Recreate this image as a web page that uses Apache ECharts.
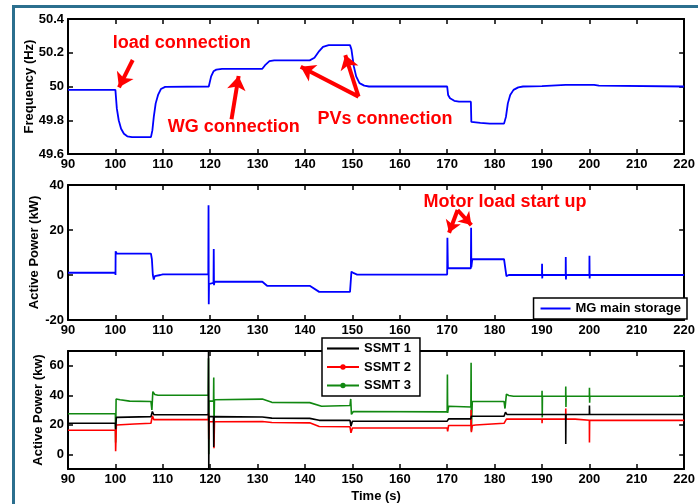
<!DOCTYPE html>
<html><head><meta charset="utf-8">
<script src="https://cdn.jsdelivr.net/npm/echarts@6/dist/echarts.min.js"></script>
<style>html,body{margin:0;padding:0;background:#fff}#c{width:698px;height:504px}</style>
</head><body><div id="c"></div>
<script>
// ---- data: [time (s), value] ----
const freqData = [[90,49.98],[100,49.98],[100.3,49.87],[100.7,49.8],[101.2,49.75],[101.8,49.72],[102.5,49.705],[103.5,49.70],[107.5,49.70],[107.8,49.74],[108.1,49.82],[108.5,49.90],[109,49.95],[109.6,49.985],[110.5,49.998],[119.7,50.0],[119.8,50.01],[120.2,50.06],[120.7,50.09],[121.3,50.1],[122.5,50.105],[131,50.105],[131.7,50.13],[132.5,50.15],[133.5,50.155],[141,50.155],[142,50.17],[143,50.21],[143.8,50.235],[145,50.245],[149.5,50.245],[149.8,50.22],[150.3,50.12],[150.8,50.06],[151.5,50.02],[152.5,50.005],[153.5,50.0],[170,50.0],[170.2,49.95],[170.6,49.93],[171.5,49.915],[172.5,49.91],[175,49.91],[175.1,49.79],[177,49.785],[179,49.78],[182,49.78],[182.4,49.82],[182.8,49.9],[183.3,49.95],[184,49.98],[185,49.995],[186,50.0],[190,50.002],[195,50.01],[201,50.01],[202,50.005],[220,50.0]];
const storageData = [[90,1],[100,1],[100.02,0],[100.05,10.5],[100.3,9.5],[107.5,9.5],[107.7,7],[107.9,0],[108.1,-2],[108.3,-0.5],[109.5,0],[110,0.3],[119.6,0.3],[119.65,31],[119.7,-13],[119.75,-4],[120.7,-3.5],[120.75,11.5],[120.8,-4.5],[120.9,-3],[131,-3],[132,-4.8],[141,-4.8],[143,-7.5],[149.5,-7.5],[149.8,1.5],[150.3,0.8],[151,0.2],[170,0.2],[170.05,16.5],[170.15,3],[175,3],[175.05,21],[175.1,3.5],[175.3,7],[182,7],[182.5,-0.5],[183,0],[190,0],[190.02,5],[190.06,-1.5],[190.1,0],[195,0],[195.02,8],[195.06,-2],[195.1,0],[200,0],[200.02,8.5],[200.06,-1.5],[200.1,0],[220,0]];
const ssmt1Data = [[90,21],[100,21],[100.05,17],[100.2,25],[107.5,25.5],[107.8,29],[108.1,26.8],[119.6,27],[119.65,70],[119.7,-10],[119.75,25.5],[120.7,25.5],[120.75,5],[120.8,25.5],[131,25.3],[133,24.5],[141,24.3],[143,23],[149.5,23],[149.7,19],[150,22.4],[170,22.4],[170.3,24],[175,24],[175.1,25.8],[182,25.8],[182.3,28.5],[182.6,27],[195,27],[195.02,7],[195.06,27],[200,27],[200.02,33],[200.06,27],[220,27]];
const ssmt2Data = [[90,16.3],[100,16.3],[100.05,2],[100.2,19.8],[104,20.5],[107.5,21],[107.8,26],[108.1,23.5],[119.6,23.5],[119.65,28],[119.7,10],[119.75,22],[120.7,22],[120.75,24],[120.8,4],[120.9,22],[131,22.2],[133,21.5],[141,21.3],[143,18.8],[149.5,18.6],[149.7,14.5],[150,17.8],[170,17.8],[170.1,15.5],[170.3,19.5],[175,19.5],[175.05,30],[175.1,15],[175.3,19.5],[176,19.8],[176.3,21],[182,21],[182.5,23.8],[190,23.8],[190.02,21],[190.06,23.8],[195,23.8],[195.02,31],[195.06,23.8],[197,23.8],[197.3,23],[200,23],[200.02,8],[200.06,23],[220,23]];
const ssmt3Data = [[90,27.5],[100,27.5],[100.05,8],[100.15,37.5],[101,37],[103,36],[107.5,35.8],[107.7,30],[107.9,42.5],[108.3,40.5],[109,40],[119.6,40],[119.65,65],[119.7,0],[119.75,36],[120.7,36],[120.75,52],[120.8,17],[120.9,37],[131,37.4],[133,35.2],[141,35],[143.5,32.5],[149.5,33],[149.65,37.5],[149.8,27],[150.2,29],[170,28.7],[170.05,54],[170.1,28],[170.3,32.5],[175,32],[175.05,62],[175.1,16],[175.3,35.8],[182,35.8],[182.2,31],[182.5,40.8],[183,39.8],[184,39.3],[190,39.3],[190.02,43],[190.06,25],[190.1,39.3],[195,39.3],[195.02,46],[195.06,32],[195.1,39.3],[200,39.3],[200.02,45],[200.06,35],[200.1,39.3],[220,39.3]];
const ssmtTicks = [0,20,40,60];
// annotations: [text, time, value]
const freqNotes = [["load connection",114.0,50.258],["WG connection",124.96,49.76],["PVs connection",156.9,49.807]];
const freqArrows = [[[103.65,50.157],[100.75,49.995]],[[124.5,49.806],[126.0,50.062]],[[151.3,49.94],[139.1,50.117]],[[151.3,49.94],[148.5,50.186]]];
const powerNotes = [["Motor load start up",182.2,32.6]];
const powerArrows = [[[172.2,28.9],[170.4,18.8]],[[172.2,28.9],[175.1,22.2]]];

const FONT = 'Liberation Sans, Arial, sans-serif';
const lbl = {color:'#000', fontFamily:FONT, fontWeight:'bold', fontSize:13};
const ICON_LINE = 'path://M0,0 L30,0 L30,2 L0,2 Z';
const ICON_DOT = 'path://M0,2.1 L30,2.1 L30,3.9 L0,3.9 Z M15,0.5 A2.5,2.5 0 1 1 15,5.5 A2.5,2.5 0 1 1 15,0.5 Z';
const grids = [{left:68,right:11,top:19,height:135},{left:68,right:11,top:185,height:135},{left:68,right:11,top:351,height:118}];
function xAx(gi, bottom, extra){
  return Object.assign({type:'value', gridIndex:gi, min:90, max:220, interval:10, position: bottom?'bottom':'top',
    axisLine:{show:true, onZero:false, lineStyle:{color:'#000', width:2}},
    axisTick:{show:true, inside:true, length:5, lineStyle:{color:'#000', width:1.5}},
    axisLabel:Object.assign({show:bottom, margin:4}, lbl), splitLine:{show:false}}, extra||{});
}
function yAx(gi, left, o){
  const ax = {type:'value', gridIndex:gi, min:o.min, max:o.max, position:left?'left':'right',
    axisLine:{show:true, onZero:false, lineStyle:{color:'#000', width:2}},
    axisTick:{show:true, inside:true, length:5, lineStyle:{color:'#000', width:1.5}},
    axisLabel:Object.assign({show:left, margin:4}, lbl, o.fmt?{formatter:o.fmt}:{}), splitLine:{show:false}};
  if (o.interval) ax.interval = o.interval;
  if (o.custom){ ax.axisLabel.customValues = o.custom; ax.axisTick.customValues = o.custom; }
  if (left && o.name){ ax.name = o.name; ax.nameLocation='middle'; ax.nameGap = o.gap; ax.nameMoveOverlap = false; ax.nameTextStyle = Object.assign({}, lbl); }
  return ax;
}
const fy = {min:49.6, max:50.4, interval:0.2, fmt:v=>(Math.round(v*10)/10).toString(), name:'Frequency (Hz)', gap:32.5};
const py = {min:-20, max:40, interval:20, name:'Active Power (kW)', gap:27};
const sy = {min:-10, max:70, custom:ssmtTicks, name:'Active Power (kw)', gap:23.5};

function notes(list){
  return {symbol:'circle', symbolSize:1, itemStyle:{color:'rgba(0,0,0,0)'}, silent:true,
    label:{show:true, position:'inside', color:'#ff0000', fontFamily:FONT, fontWeight:'bold', fontSize:18, formatter:p=>p.name},
    data:list.map(n=>({name:n[0], coord:[n[1],n[2]]}))};
}
function arrows(list, size){
  return {silent:true, symbol:['none','arrow'], symbolSize:[size,size], label:{show:false},
    lineStyle:{color:'#ff0000', width:4, type:'solid'}, itemStyle:{color:'#ff0000'}, emphasis:{disabled:true},
    data:list.map(a=>[{coord:a[0]},{coord:a[1]}])};
}

const option = {
  animation:false,
  backgroundColor:'#fff',
  graphic:[{type:'rect', left:11, top:4, shape:{x:0,y:0,width:700,height:520}, style:{fill:'none', stroke:'#2b6f8e', lineWidth:3}, silent:true}],
  grid:grids,
  xAxis:[xAx(0,true), xAx(0,false), xAx(1,true), xAx(1,false),
         xAx(2,true,{name:'Time (s)', nameLocation:'middle', nameGap:21, nameTextStyle:Object.assign({},lbl)}), xAx(2,false)],
  yAxis:[yAx(0,true,fy), yAx(0,false,fy), yAx(1,true,py), yAx(1,false,py), yAx(2,true,sy), yAx(2,false,sy)],
  legend:[
    {data:[{name:'MG main storage', icon:ICON_LINE}], right:11, top:298, padding:[4,6,4,7], itemWidth:30, itemHeight:12, itemGap:4,
     borderColor:'#000', borderWidth:1.5, backgroundColor:'#fff', textStyle:Object.assign({},lbl), selectedMode:false},
    {data:[{name:'SSMT 1', icon:ICON_LINE},{name:'SSMT 2', icon:ICON_DOT},{name:'SSMT 3', icon:ICON_DOT}], orient:'vertical', left:322, top:338, padding:[4,9,4,5], itemWidth:32, itemHeight:13, itemGap:5.5,
     borderColor:'#000', borderWidth:1.5, backgroundColor:'#fff', textStyle:Object.assign({},lbl), selectedMode:false}
  ],
  series:[
    {name:'Frequency', type:'line', xAxisIndex:0, yAxisIndex:0, data:freqData, symbol:'none', lineStyle:{color:'#0000ff', width:1.8}, itemStyle:{color:'#0000ff'},
     markPoint:notes(freqNotes), markLine:arrows(freqArrows,14)},
    {name:'MG main storage', type:'line', xAxisIndex:2, yAxisIndex:2, data:storageData, symbol:'none', lineStyle:{color:'#0000ff', width:1.8}, itemStyle:{color:'#0000ff'},
     markPoint:notes(powerNotes), markLine:arrows(powerArrows,12)},
    {name:'SSMT 3', type:'line', xAxisIndex:4, yAxisIndex:4, data:ssmt3Data, symbol:'none', lineStyle:{color:'#118811', width:1.6}, itemStyle:{color:'#118811'}},
    {name:'SSMT 2', type:'line', xAxisIndex:4, yAxisIndex:4, data:ssmt2Data, symbol:'none', lineStyle:{color:'#ff0000', width:1.6}, itemStyle:{color:'#ff0000'}},
    {name:'SSMT 1', type:'line', xAxisIndex:4, yAxisIndex:4, data:ssmt1Data, symbol:'none', lineStyle:{color:'#000000', width:1.6}, itemStyle:{color:'#000000'}}
  ]
};
const chart = echarts.init(document.getElementById('c'), null, {renderer:'canvas'});
chart.setOption(option);
</script></body></html>
